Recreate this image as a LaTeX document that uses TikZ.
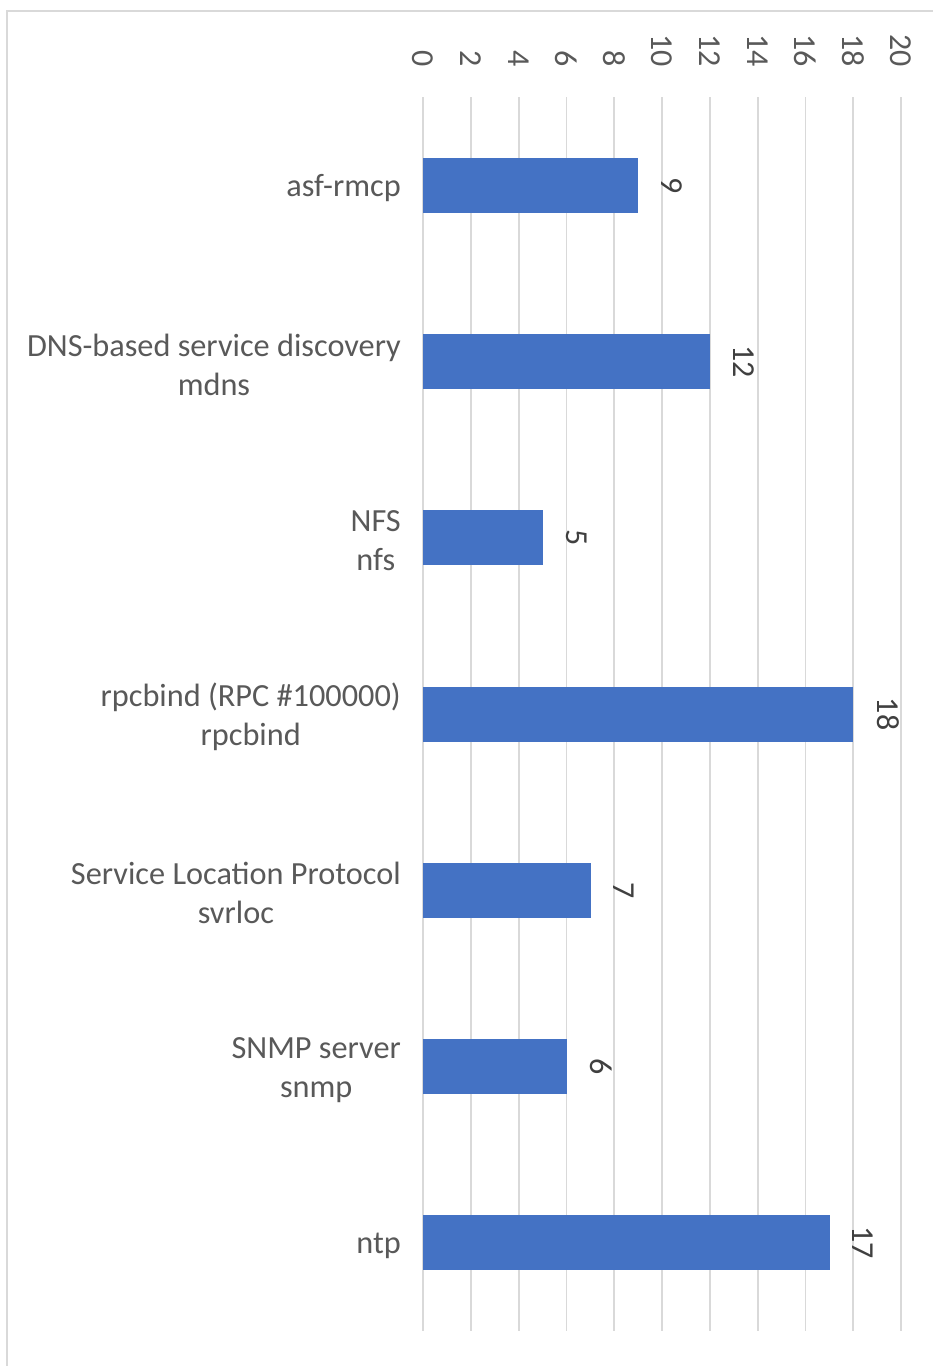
\documentclass[tikz,border=0pt]{standalone}
\usepackage{fontspec}
\setmainfont{Carlito}
\definecolor{gridc}{HTML}{D9D9D9}
\definecolor{barc}{HTML}{4472C4}
\definecolor{labc}{HTML}{595959}
\definecolor{valc}{HTML}{404040}
\begin{document}
\begin{tikzpicture}[x=1pt,y=-1pt,
  gridline/.style={draw=gridc,line width=1.8pt},
  framel/.style={draw=gridc,line width=2pt},
  bar/.style={fill=barc,draw=none,inner sep=0pt,minimum height=55pt,anchor=west},
  cat/.style={anchor=east,align=center,inner sep=0pt,text=labc,font=\fontsize{32.3}{39}\selectfont},
  tick/.style={rotate=-90,anchor=east,inner sep=0pt,text=labc,font=\fontsize{32}{39}\selectfont},
  val/.style={rotate=-90,anchor=south,inner sep=0pt,text=valc,font=\fontsize{32}{39}\selectfont}]
\useasboundingbox (0,0) rectangle (933,1366);
\draw[framel] (7,1366) -- (7,11) -- (933,11);
\foreach \v in {0,2,...,20} {
  \draw[gridline] ({423+23.9*\v},97) -- ({423+23.9*\v},1331);
  \node[tick] (t\v) at ({423+23.9*\v},67) {\v};
}
\foreach \i/\v in {1/9,2/12,3/5,4/18,5/7,6/6,7/17} {
  \node[bar,minimum width={23.9*\v pt}] (b\i) at (423,{97+176.3*(\i-0.5)}) {};
  \node[val] (v\i) at ([xshift=23pt]b\i.east) {\v};
}
\node[cat] (c1) at (401,{100+176.3*0.5}) {asf-rmcp};
\node[cat] (c2) at (401,{100+176.3*1.5}) {DNS-based service discovery\\mdns};
\node[cat] (c3) at (401,{100+176.3*2.5}) {NFS\\nfs};
\node[cat] (c4) at (401,{100+176.3*3.5}) {rpcbind (RPC \#100000)\\rpcbind};
\node[cat] (c5) at (401,{100+176.3*4.5}) {Service Location Protocol\\svrloc};
\node[cat] (c6) at (401,{100+176.3*5.5}) {SNMP server\\snmp};
\node[cat] (c7) at (401,{100+176.3*6.5}) {ntp};
\end{tikzpicture}
\end{document}
